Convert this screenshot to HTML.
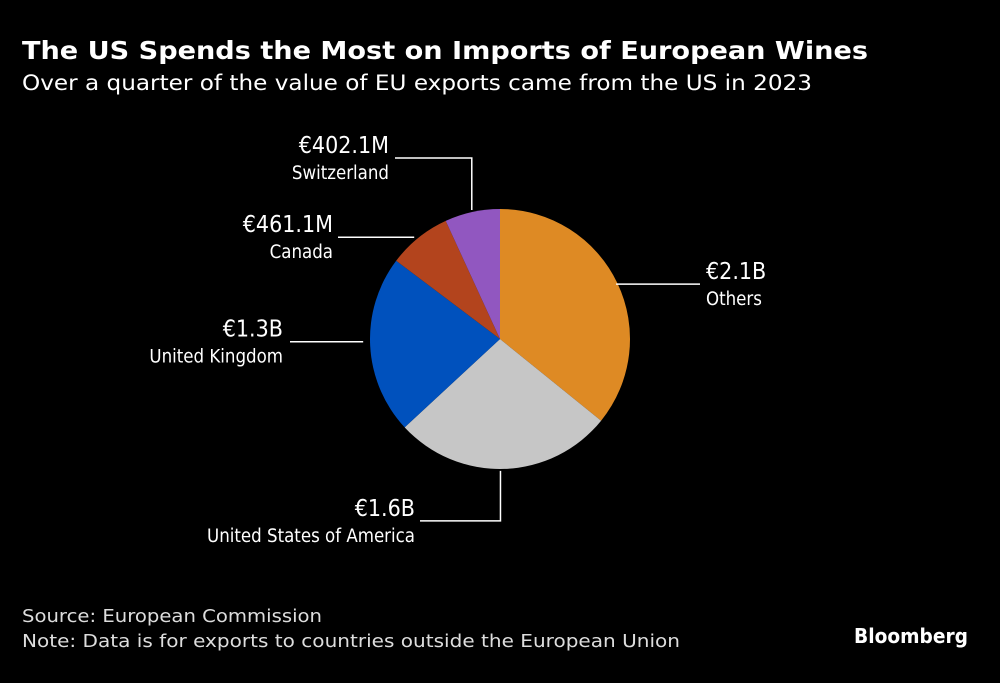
<!DOCTYPE html>
<html><head><meta charset="utf-8"><style>
body{margin:0;background:#000;width:1000px;height:683px;overflow:hidden;font-family:"DejaVu Sans","Liberation Sans",sans-serif;color:#fff}
svg{position:absolute;left:0;top:0}
text{font-family:"DejaVu Sans","Liberation Sans",sans-serif}
.c{font-family:"DejaVu Sans Condensed","DejaVu Sans",sans-serif}
</style></head><body>
<svg width="1000" height="683">
<text x="22" y="59" font-size="25" font-weight="bold" fill="#fff" textLength="846" lengthAdjust="spacingAndGlyphs">The US Spends the Most on Imports of European Wines</text>
<text x="22" y="90" font-size="21" fill="#fff" textLength="790" lengthAdjust="spacingAndGlyphs">Over a quarter of the value of EU exports came from the US in 2023</text>
<g id="pie"></g>
<g id="labels"></g>
<text x="22" y="622" font-size="18" fill="#ddd" textLength="300" lengthAdjust="spacingAndGlyphs">Source: European Commission</text>
<text x="22" y="647" font-size="18" fill="#ddd" textLength="658" lengthAdjust="spacingAndGlyphs">Note: Data is for exports to countries outside the European Union</text>
<text x="968" y="643" font-size="20" font-weight="bold" fill="#fff" text-anchor="end" textLength="114" lengthAdjust="spacingAndGlyphs">Bloomberg</text>
</svg>
<script>
const categories=["Others","United States of America","United Kingdom","Canada","Switzerland"];
const values=[2.1,1.6,1.3,0.4611,0.4021];
const valueLabels=["€2.1B","€1.6B","€1.3B","€461.1M","€402.1M"];
const colors=["#de8a24","#c6c6c6","#0051bd","#b3441d","#9157c0"];
const cx=500,cy=339,r=130;
const NS="http://www.w3.org/2000/svg";
const total=values.reduce((a,b)=>a+b,0);
function pt(a,rr){return [cx+rr*Math.sin(a),cy-rr*Math.cos(a)];}
const pie=document.getElementById('pie'),lab=document.getElementById('labels');
let a0=0;
function mk(tag,attrs,parent){const e=document.createElementNS(NS,tag);for(const k in attrs)e.setAttribute(k,attrs[k]);parent.appendChild(e);return e;}
values.forEach((v,i)=>{
  const a1=a0+v/total*2*Math.PI;
  const [x0,y0]=pt(a0,r),[x1,y1]=pt(a1,r);
  const large=(a1-a0)>Math.PI?1:0;
  const p=mk('path',{d:`M${cx},${cy}L${x0},${y0}A${r},${r} 0 ${large} 1 ${x1},${y1}Z`,fill:colors[i]},pie);
  
  
  const mid=(a0+a1)/2;
  const [ex,ey]=pt(mid,r+2);
  let d,tx,anchor,ty;
  if(i===0){const y=ey+2;d=`M${ex-3},${y}L700,${y}`;tx=706;anchor='start';ty=y;}
  else if(i===1){const x=ex-4;d=`M${x},${ey}L${x},${ey+50}L420,${ey+50}`;tx=415;anchor='end';ty=ey+50;}
  else if(i===2){d=`M${ex-5},${ey-4}L290,${ey-4}`;tx=283;anchor='end';ty=ey-4;}
  else if(i===3){d=`M${ex-3},${ey+1}L338,${ey+1}`;tx=333;anchor='end';ty=ey+1;}
  else {d=`M${ex},${ey}L${ex},158L395,158`;tx=389;anchor='end';ty=158;}
  const l=mk('path',{d:d,stroke:'#fff','stroke-width':1.5,fill:'none'},lab);
  
  
  const t1=mk('text',{x:tx,y:ty-5,'font-size':23,fill:'#fff','text-anchor':anchor,'class':'c'},lab);t1.textContent=valueLabels[i];
  
  
  const t2=mk('text',{x:tx,y:ty+21,'font-size':18.5,fill:'#fff','text-anchor':anchor,'class':'c'},lab);t2.textContent=categories[i];
  
  
  a0=a1;
});
</script>
</body></html>
